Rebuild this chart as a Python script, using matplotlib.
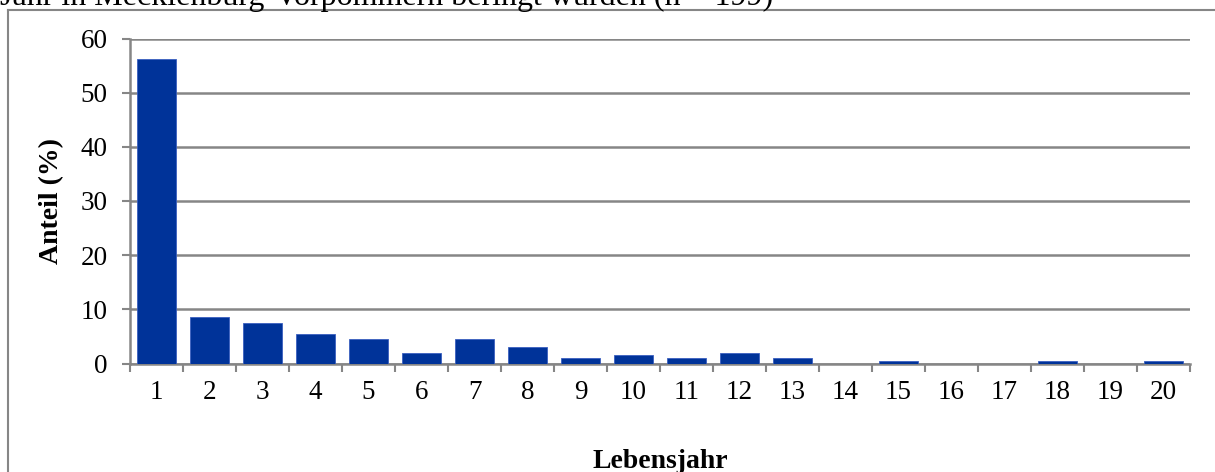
import matplotlib
matplotlib.use("Agg")
import matplotlib.pyplot as plt
from matplotlib.lines import Line2D

plt.rcParams["font.family"] = ["Liberation Serif", "DejaVu Serif"]

# Lebensjahr und Anteil (%) der Ringfunde, n = 199
jahre = list(range(1, 21))
anteil = [56.3, 8.5, 7.5, 5.5, 4.5, 2.0, 4.5, 3.0, 1.0, 1.5,
          1.0, 2.0, 1.0, 0.0, 0.5, 0.0, 0.0, 0.5, 0.0, 0.5]
yticks = [0, 10, 20, 30, 40, 50, 60]

W, H = 1215, 472
GRAY = "#868686"
BLUE = "#003399"

fig = plt.figure(figsize=(W / 100, H / 100), dpi=100)
ax = fig.add_axes([130 / W, 1 - 363.5 / H, 1060 / W, 325 / H])

ax.bar(jahre, anteil, width=0.72, color=BLUE, edgecolor="#3a5fc0",
       linewidth=0.6, zorder=3)

ax.set_xlim(0.5, 20.5)
ax.set_ylim(0, 60)
ax.set_yticks(yticks)
ax.set_xticks(jahre)
ax.set_xticks([j + 0.5 for j in range(0, 21)], minor=True)
ax.tick_params(axis="x", which="major", length=0, pad=12, labelsize=19.5)
ax.tick_params(axis="x", which="minor", length=6, width=1.5, color=GRAY,
               direction="out")
ax.tick_params(axis="y", length=6, width=1.5, color=GRAY, pad=10,
               labelsize=19.5)
ax.yaxis.grid(True, color=GRAY, lw=1.8, zorder=0)
ax.set_axisbelow(True)

for s in ["top", "right"]:
    ax.spines[s].set_visible(False)
for s in ["left", "bottom"]:
    ax.spines[s].set_color(GRAY)
    ax.spines[s].set_linewidth(1.8)

ax.set_ylabel("Anteil (%)", fontsize=20, fontweight="bold", va="center")
ax.yaxis.set_label_coords(-0.0736, 0.5)
ax.set_xlabel("Lebensjahr", fontsize=20, fontweight="bold", va="center")
ax.xaxis.set_label_coords(0.5, -0.302)

# Rahmen des eingebetteten Diagramms
fig.add_artist(Line2D([8 / W, 8 / W], [0, 1 - 10 / H], transform=fig.transFigure,
                      color=GRAY, lw=1.5))
fig.add_artist(Line2D([8 / W, 1], [1 - 10 / H, 1 - 10 / H],
                      transform=fig.transFigure, color=GRAY, lw=1.5))

# abgeschnittene Titelzeile oben
fig.text(0, 1 - 5 / H, "Jahr in Mecklenburg-Vorpommern beringt wurden (n = 199)",
         fontsize=23, ha="left", va="baseline")

fig.savefig("out.png", dpi=100)
